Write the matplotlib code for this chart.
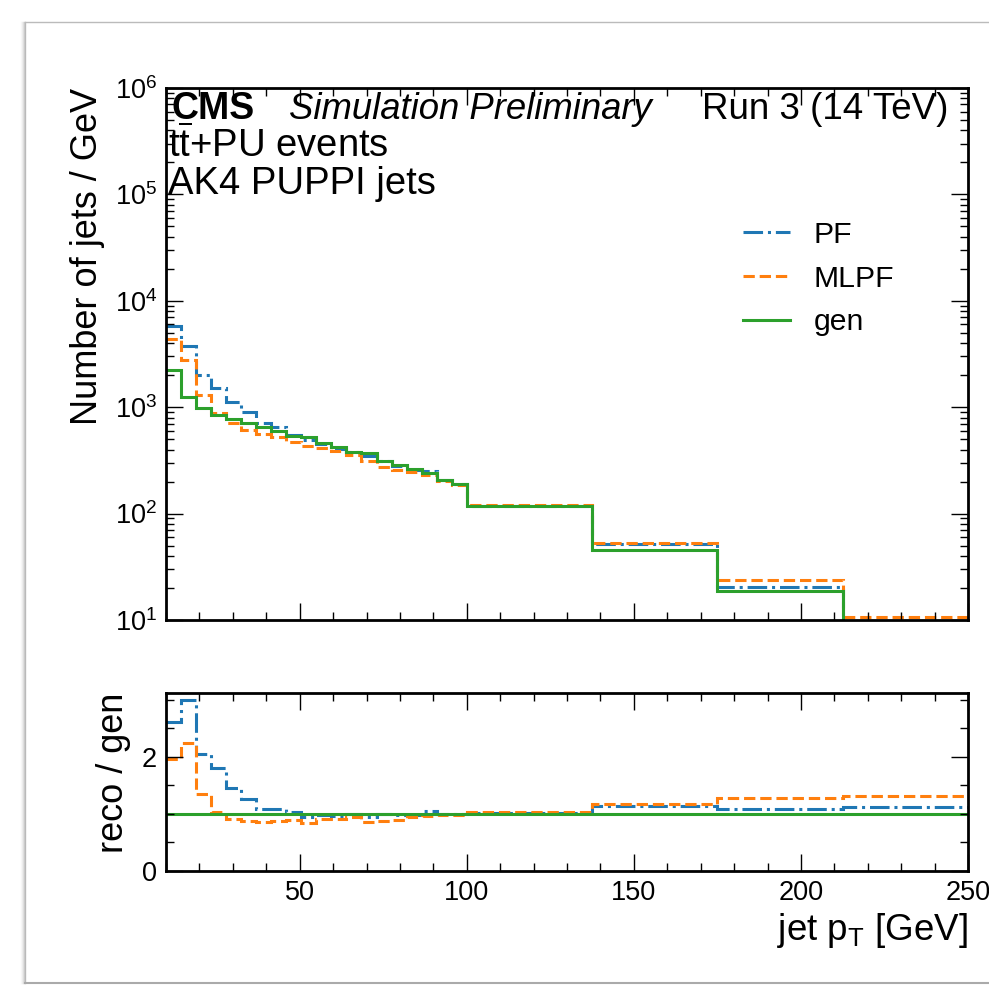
import numpy as np
import matplotlib
matplotlib.use("Agg")
import matplotlib.pyplot as plt
from matplotlib.ticker import AutoMinorLocator, MultipleLocator, LogLocator, NullFormatter
from matplotlib.lines import Line2D

# ---------------- data ----------------
bin_edges = [10.0, 14.5, 19.0, 23.5, 28.0, 32.5, 37.0, 41.5, 46.0, 50.5, 55.0,
             59.5, 64.0, 68.5, 73.0, 77.5, 82.0, 86.5, 91.0, 95.5, 100.0,
             137.5, 175.0, 212.5, 250.0]

gen_counts = [2240, 1250, 977, 846, 775, 711, 656, 601, 532, 525,
              458, 423, 382, 369, 314, 288, 261, 239, 207, 190,
              117, 45.5, 18.9, 8.2]

pf_counts = [5830, 3730, 1990, 1530, 1130, 896, 715, 649, 545, 491,
             450, 408, 378, 348, 314, 283, 256, 250, 207, 190,
             118, 51.6, 20.4, 9.2]

mlpf_counts = [4390, 2790, 1315, 876, 703, 616, 561, 523, 473, 436,
               415, 384, 359, 315, 276, 256, 245, 229, 201, 186,
               120, 53.0, 24.0, 10.7]

x_ticks = [50, 100, 150, 200, 250]

# ---------------- style ----------------
plt.rcParams.update({
    "font.family": ["Liberation Sans", "DejaVu Sans"],
    "mathtext.fontset": "custom",
    "mathtext.rm": "Liberation Sans",
    "mathtext.it": "Liberation Sans:italic",
    "mathtext.bf": "Liberation Sans:bold",
    "axes.linewidth": 2,
    "xtick.direction": "in",
    "ytick.direction": "in",
    "xtick.major.size": 12,
    "xtick.minor.size": 6,
    "ytick.major.size": 12,
    "ytick.minor.size": 6,
    "xtick.major.width": 1.0,
    "ytick.major.width": 1.0,
    "xtick.minor.width": 1.0,
    "ytick.minor.width": 1.0,
    "xtick.major.pad": 6.5,
    "ytick.major.pad": 6.5,
    "xtick.top": True,
    "ytick.right": True,
    "xtick.labelsize": 19.5,
    "ytick.labelsize": 19.5,
})

W, H = 989, 985
fig = plt.figure(figsize=(W / 100, H / 100), dpi=100)
fig.patch.set_facecolor("white")

# page frame with soft shadow
for i, a in enumerate([0.55, 0.35, 0.2, 0.1, 0.05]):
    xl = (25 - i) / W
    fig.add_artist(Line2D([xl, xl], [2 / H, 1 - 22 / H], transform=fig.transFigure,
                          color="#888888", alpha=a, lw=1))
fig.add_artist(Line2D([25 / W, 1], [1 - 22 / H, 1 - 22 / H], transform=fig.transFigure,
                      color="#bbbbbb", lw=1))
fig.add_artist(Line2D([25 / W, 1], [2 / H, 2 / H], transform=fig.transFigure,
                      color="#aaaaaa", lw=1.5))

ax_l, ax_w = 166 / W, (968 - 166) / W
ax = fig.add_axes([ax_l, (H - 620) / H, ax_w, 532 / H])
rax = fig.add_axes([ax_l, (H - 870.7) / H, ax_w, 178 / H], sharex=ax)

edges = np.array(bin_edges)
gen = np.array(gen_counts)
pf = np.array(pf_counts)
mlpf = np.array(mlpf_counts)

c_pf, c_mlpf, c_gen = "#1f77b4", "#ff7f0e", "#2ca02c"
lw = 2.2

ax.stairs(pf, edges, color=c_pf, ls="-.", lw=lw, label="PF", baseline=None)
ax.stairs(mlpf, edges, color=c_mlpf, ls="--", lw=lw, label="MLPF", baseline=None)
ax.stairs(gen, edges, color=c_gen, ls="-", lw=lw, label="gen", baseline=None)

ax.set_yscale("log")
ax.set_ylim(10, 1e6)
ax.set_xlim(10, 250)
ax.yaxis.set_major_locator(LogLocator(base=10, numticks=20))
ax.yaxis.set_minor_locator(LogLocator(base=10, subs=np.arange(2, 10), numticks=20))
ax.yaxis.set_minor_formatter(NullFormatter())
ax.tick_params(axis="x", which="both", labelbottom=False)

ax.set_ylabel("Number of jets / GeV", fontsize=26, loc="top")
ax.yaxis.set_label_coords(-0.076, 1.0)

leg = ax.legend(loc="upper left", bbox_to_anchor=((743 - 166) / 802, 1 - (221 - 88) / 532),
                frameon=False, fontsize=21.7, handlelength=1.55, handletextpad=0.8,
                labelspacing=0.52, borderpad=0, borderaxespad=0)

# experiment labels
yb = 1 - (119 - 88) / 532
ax.text((171.7 - 166) / 802, yb, "CMS", transform=ax.transAxes,
        fontsize=27, fontweight="bold", ha="left", va="baseline")
ax.text((289 - 166) / 802, yb, "Simulation Preliminary",
        transform=ax.transAxes, fontsize=26.3, style="italic", ha="left", va="baseline")
ax.text((948 - 166) / 802, yb, "Run 3 (14 TeV)",
        transform=ax.transAxes, fontsize=26.5, ha="right", va="baseline")
ax.text(0.002, 1 - (157 - 88) / 532, r"$\mathrm{t\overline{t}}$+PU events",
        transform=ax.transAxes, fontsize=27.5, ha="left", va="baseline")
ax.text(0.002, 1 - (194 - 88) / 532, "AK4 PUPPI jets",
        transform=ax.transAxes, fontsize=27.5, ha="left", va="baseline")

# ratio panel
rax.stairs(pf / gen, edges, color=c_pf, ls="-.", lw=lw, baseline=None)
rax.stairs(mlpf / gen, edges, color=c_mlpf, ls="--", lw=lw, baseline=None)
rax.stairs(gen / gen, edges, color=c_gen, ls="-", lw=lw, baseline=None)
rax.set_ylim(0, 3.12)
rax.yaxis.set_major_locator(MultipleLocator(2))
rax.yaxis.set_minor_locator(MultipleLocator(0.5))
rax.set_xticks(x_ticks)
rax.xaxis.set_minor_locator(AutoMinorLocator(5))
rax.set_xlim(10, 250)
rax.set_ylabel("reco / gen", fontsize=26, loc="top")
rax.yaxis.set_label_coords(-0.044, 1.0)
rax.set_xlabel(r"jet $\mathrm{p_T}$ [GeV]", fontsize=26.5, loc="right")

for a in (ax, rax):
    a.tick_params(which="both", top=True, right=True)

fig.savefig("out.png", dpi=100, facecolor="white")
